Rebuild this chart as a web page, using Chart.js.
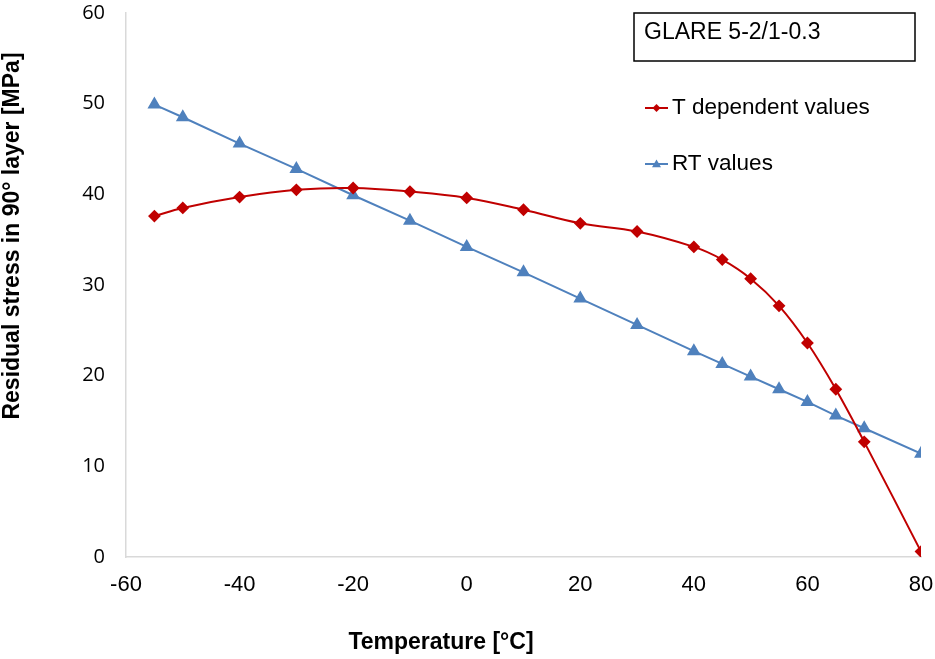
<!DOCTYPE html>
<html>
<head>
<meta charset="utf-8">
<script src="https://cdn.jsdelivr.net/npm/chart.js@4/dist/chart.umd.min.js"></script>
<style>
html,body{margin:0;padding:0;background:#fff;}
#wrap{width:935px;height:659px;position:relative;}
</style>
</head>
<body>
<div id="wrap"><canvas id="c" width="935" height="659"></canvas></div>
<script>
const temperatures = [-55, -50, -40, -30, -20, -10, 0, 10, 20, 30, 40, 45, 50, 55, 60, 65, 70, 80];
const tDependent = [37.6, 38.5, 39.7, 40.5, 40.7, 40.3, 39.6, 38.3, 36.8, 35.9, 34.2, 32.8, 30.7, 27.7, 23.6, 18.5, 12.7, 0.6];
const rtValues = [49.9, 48.5, 45.6, 42.8, 39.9, 37.1, 34.2, 31.4, 28.5, 25.6, 22.7, 21.3, 19.9, 18.5, 17.1, 15.6, 14.2, 11.4];
const seriesNames = ['T dependent values', 'RT values'];
const boxTitle = 'GLARE 5-2/1-0.3';
const xTitle = 'Temperature [°C]';
const yTitle = 'Residual stress in 90° layer [MPa]';

const pts = (ys) => temperatures.map((t, i) => ({x: t, y: ys[i]}));
const ARIAL = '"Liberation Sans", Arial, sans-serif';

const overlay = {
  id: 'overlay',
  afterDraw(chart) {
    const ctx = chart.ctx;
    const a = chart.chartArea;
    ctx.save();
    ctx.fillStyle = '#000';
    ctx.font = 'bold 23px ' + ARIAL;
    ctx.textAlign = 'center';
    ctx.textBaseline = 'middle';
    ctx.fillText(xTitle, a.left + 315, a.bottom + 86);
    ctx.save();
    ctx.translate(a.left - 113, a.top + 223);
    ctx.rotate(-Math.PI / 2);
    ctx.fillText(yTitle, 0, 0);
    ctx.restore();
    const bx = a.right - 287, by = a.top, bw = 281, bh = 48;
    ctx.strokeStyle = '#000';
    ctx.lineWidth = 1.5;
    ctx.strokeRect(bx, by, bw, bh);
    ctx.fillStyle = '#000';
    ctx.font = '23px ' + ARIAL;
    ctx.textBaseline = 'middle';
    ctx.textAlign = 'left';
    ctx.fillText(boxTitle, bx + 10, by + 20);
    const ly = [a.top + 95, a.top + 151];
    chart.data.datasets.forEach((ds, i) => {
      const x0 = bx + 11, y = ly[i];
      ctx.strokeStyle = ds.borderColor;
      ctx.lineWidth = 2;
      ctx.beginPath(); ctx.moveTo(x0, y); ctx.lineTo(x0 + 23, y); ctx.stroke();
      ctx.fillStyle = ds.backgroundColor;
      ctx.beginPath();
      if (ds.pointStyle === 'rectRot') {
        const r = 4;
        ctx.moveTo(x0 + 11.5, y - r); ctx.lineTo(x0 + 11.5 + r, y); ctx.lineTo(x0 + 11.5, y + r); ctx.lineTo(x0 + 11.5 - r, y);
      } else {
        const r = 4.5;
        ctx.moveTo(x0 + 11.5, y - r); ctx.lineTo(x0 + 11.5 + r, y + r * 0.7); ctx.lineTo(x0 + 11.5 - r, y + r * 0.7);
      }
      ctx.closePath(); ctx.fill();
      ctx.fillStyle = '#000';
      ctx.font = '22.5px ' + ARIAL;
      ctx.fillText(ds.label, x0 + 27, y);
    });
    ctx.restore();
  }
};

new Chart(document.getElementById('c'), {
  type: 'line',
  data: {
    datasets: [
      {
        label: seriesNames[0],
        data: pts(tDependent),
        borderColor: '#C00000',
        backgroundColor: '#C00000',
        borderWidth: 2,
        pointStyle: 'rectRot',
        pointRadius: 5,
        pointHoverRadius: 5,
        tension: 0.4
      },
      {
        label: seriesNames[1],
        data: pts(rtValues),
        borderColor: '#4F81BD',
        backgroundColor: '#4F81BD',
        borderWidth: 2,
        pointStyle: 'triangle',
        pointRadius: 6,
        pointHoverRadius: 6,
        tension: 0
      }
    ]
  },
  options: {
    responsive: false,
    animation: false,
    devicePixelRatio: 1,
    layout: {padding: {top: 13, right: 14, left: 0, bottom: 0}},
    plugins: {legend: {display: false}, tooltip: {enabled: false}},
    scales: {
      x: {
        type: 'linear',
        min: -60, max: 80,
        afterFit(s) { s.height = 102; s.paddingLeft = 0; s.paddingRight = 0; },
        grid: {display: false, drawTicks: false},
        border: {display: true, color: '#D9D9D9', width: 1.5},
        ticks: {stepSize: 20, padding: 15, color: '#000', font: {family: ARIAL, size: 22}},
        title: {display: false}
      },
      y: {
        min: 0, max: 60,
        afterFit(s) { s.width = 126; s.paddingTop = 0; s.paddingBottom = 0; },
        grid: {display: false, drawTicks: false},
        border: {display: true, color: '#D9D9D9', width: 1.5},
        ticks: {stepSize: 10, padding: 21, color: '#000', font: {family: '"Open Sans", sans-serif', size: 20}},
        title: {display: false}
      }
    }
  },
  plugins: [overlay]
});
</script>
</body>
</html>
